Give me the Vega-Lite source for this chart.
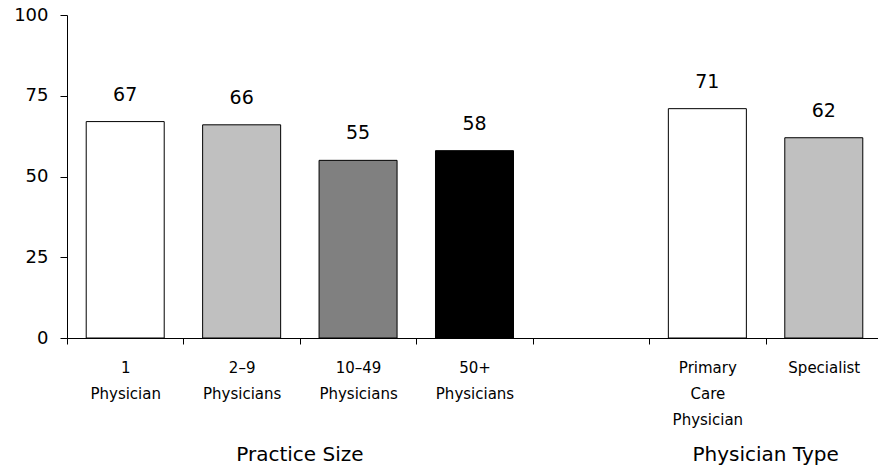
{
  "$schema": "https://vega.github.io/schema/vega-lite/v6.json",
  "width": 815,
  "height": 323,
  "autosize": {"type": "none"},
  "padding": {"left": 67, "top": 15, "right": 0, "bottom": 132},
  "background": "white",
  "config": {"view": {"stroke": null}, "font": "DejaVu Sans"},
  "datasets": {
    "bars": [
      {"cat": "1|Physician", "value": 67},
      {"cat": "2–9|Physicians", "value": 66},
      {"cat": "10–49|Physicians", "value": 55},
      {"cat": "50+|Physicians", "value": 58},
      {"cat": "Primary|Care|Physician", "value": 71},
      {"cat": "Specialist", "value": 62}
    ],
    "groups": [
      {"group": "Practice Size", "anchor": "2–9|Physicians"},
      {"group": "Physician Type", "anchor": "Primary|Care|Physician"}
    ]
  },
  "layer": [
    {
      "data": {"name": "bars"},
      "mark": {"type": "bar", "stroke": "black", "strokeWidth": 1, "width": {"band": 0.67}},
      "encoding": {
        "x": {
          "field": "cat",
          "type": "nominal",
          "sort": null,
          "scale": {
            "domain": ["1|Physician", "2–9|Physicians", "10–49|Physicians", "50+|Physicians", "gap", "Primary|Care|Physician", "Specialist"],
            "paddingInner": 0,
            "paddingOuter": 0
          },
          "axis": {
            "title": null,
            "labelAngle": 0,
            "labelExpr": "isString(datum.value) && datum.value != 'gap' ? split(datum.value, '|') : ''",
            "labelFontSize": 15,
            "labelColor": "black",
            "labelLineHeight": 26,
            "labelPadding": 16,
            "labelBaseline": "top",
            "labelLimit": 200,
            "tickBand": "extent",
            "tickSize": 6,
            "tickColor": "black",
            "domainColor": "black",
            "grid": false
          }
        },
        "y": {
          "field": "value",
          "type": "quantitative",
          "scale": {"domain": [0, 100]},
          "axis": {
            "title": null,
            "values": [0, 25, 50, 75, 100],
            "grid": false,
            "labelFontSize": 18,
            "labelColor": "black",
            "labelPadding": 12,
            "tickSize": 7,
            "tickColor": "black",
            "domainColor": "black"
          }
        },
        "fill": {
          "field": "cat",
          "type": "nominal",
          "scale": {
            "domain": ["1|Physician", "2–9|Physicians", "10–49|Physicians", "50+|Physicians", "Primary|Care|Physician", "Specialist"],
            "range": ["#ffffff", "#c0c0c0", "#808080", "#000000", "#ffffff", "#c0c0c0"]
          },
          "legend": null
        }
      }
    },
    {
      "data": {"name": "bars"},
      "mark": {"type": "text", "baseline": "middle", "dy": -27, "fontSize": 19, "color": "black"},
      "encoding": {
        "x": {"field": "cat", "type": "nominal", "sort": null},
        "y": {"field": "value", "type": "quantitative"},
        "text": {"field": "value", "type": "quantitative"}
      }
    },
    {
      "data": {"name": "groups"},
      "mark": {"type": "text", "baseline": "middle", "dy": 117, "fontSize": 20, "color": "black"},
      "encoding": {
        "x": {"field": "anchor", "type": "nominal", "sort": null, "bandPosition": 1},
        "y": {"datum": 0},
        "text": {"field": "group", "type": "nominal"}
      }
    }
  ]
}
